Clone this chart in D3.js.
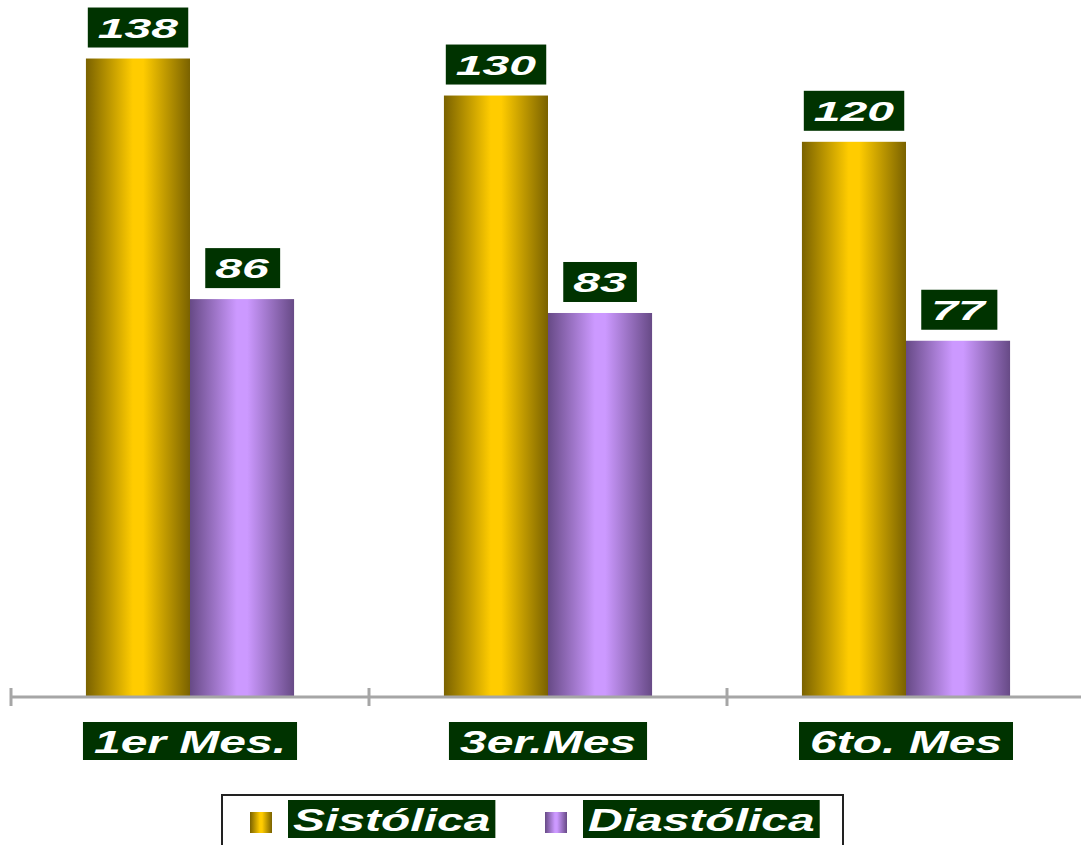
<!DOCTYPE html>
<html>
<head>
<meta charset="utf-8">
<script src="https://cdn.jsdelivr.net/npm/d3@7"></script>
<style>
  body { margin: 0; background: #fff; }
  svg { display: block; }
</style>
</head>
<body>
<svg width="1081" height="845"></svg>
<script>
var categories = ["1er Mes.", "3er.Mes", "6to. Mes"];
var seriesNames = ["Sistólica", "Diastólica"];
var sistolica = [138, 130, 120];
var diastolica = [86, 83, 77];

var svg = d3.select("svg");
var defs = svg.append("defs");

function addGradient(id, dark, light) {
    var g = defs.append("linearGradient")
        .attr("id", id)
        .attr("x1", "0%").attr("x2", "100%")
        .attr("y1", "0%").attr("y2", "0%");
    g.append("stop").attr("offset", "0%").attr("stop-color", dark);
    g.append("stop").attr("offset", "45%").attr("stop-color", light);
    g.append("stop").attr("offset", "55%").attr("stop-color", light);
    g.append("stop").attr("offset", "100%").attr("stop-color", dark);
}
addGradient("gradSis", "#7a6200", "#ffcc00");
addGradient("gradDia", "#674a86", "#cc99ff");
var fills = { "Sistólica": "url(#gradSis)", "Diastólica": "url(#gradDia)" };

var baseY = 697;
var x0 = d3.scaleBand().domain(categories).range([11, 1085]);
var x1 = d3.scaleBand().domain(seriesNames).range([0, x0.bandwidth()]).paddingOuter(0.72);
var y = d3.scaleLinear().domain([0, 150]).range([baseY, 3]);

var rows = categories.map(function (c, i) {
    return { cat: c, values: [
        { name: "Sistólica", value: sistolica[i] },
        { name: "Diastólica", value: diastolica[i] }
    ] };
});

// dark green box with stretched white italic text
function labelBox(parent, text, cx, baseline, size, sx, padX, boxH, dy) {
    var g = parent.append("g").attr("transform", "translate(" + cx + "," + baseline + ") scale(" + sx + ",1)");
    var rect = g.append("rect").attr("fill", "#003300");
    var t = g.append("text")
        .attr("text-anchor", "middle")
        .attr("font-family", "Liberation Sans, Arial, sans-serif")
        .attr("font-weight", "bold")
        .attr("font-style", "italic")
        .attr("font-size", size)
        .attr("fill", "#fff")
        .text(text);
    var bb = t.node().getBBox();
    rect.attr("x", bb.x - padX / sx)
        .attr("width", bb.width + 2 * padX / sx)
        .attr("y", -boxH + dy)
        .attr("height", boxH);
    return g;
}

// bars
var groups = svg.selectAll("g.cat")
    .data(rows)
    .enter().append("g")
    .attr("class", "cat")
    .attr("transform", d => "translate(" + x0(d.cat) + ",0)");

groups.selectAll("rect.bar")
    .data(d => d.values)
    .enter().append("rect")
    .attr("class", "bar")
    .attr("x", d => x1(d.name))
    .attr("width", x1.bandwidth())
    .attr("y", d => y(d.value))
    .attr("height", d => baseY - y(d.value))
    .attr("fill", d => fills[d.name]);

// axis
var axisG = svg.append("g");
axisG.append("line")
    .attr("x1", 11).attr("x2", 1081)
    .attr("y1", baseY).attr("y2", baseY)
    .attr("stroke", "#a6a6a6").attr("stroke-width", 3);
var tickXs = categories.map(c => x0(c)).concat([x0.range()[1]]);
axisG.selectAll("line.tick")
    .data(tickXs)
    .enter().append("line")
    .attr("class", "tick")
    .attr("x1", d => d).attr("x2", d => d)
    .attr("y1", baseY - 9).attr("y2", baseY + 9)
    .attr("stroke", "#a6a6a6").attr("stroke-width", 3);

// value labels
rows.forEach(function (r) {
    r.values.forEach(function (v) {
        var cx = x0(r.cat) + x1(v.name) + x1.bandwidth() / 2;
        labelBox(svg, String(v.value), cx, y(v.value) - 21, 28, 1.72, 10, 40, 10);
    });
});

// category labels
categories.forEach(function (c) {
    labelBox(svg, c, x0(c) + x0.bandwidth() / 2, 753, 32, 1.5, 11, 38, 7);
});

// legend
svg.append("rect")
    .attr("x", 222).attr("y", 795)
    .attr("width", 621).attr("height", 70)
    .attr("fill", "#fff")
    .attr("stroke", "#222").attr("stroke-width", 2);

var legendX = [250, 545];
seriesNames.forEach(function (s, i) {
    svg.append("rect")
        .attr("x", legendX[i]).attr("y", 812)
        .attr("width", 22).attr("height", 21)
        .attr("fill", fills[s]);
    var g = labelBox(svg, s, 0, 831, 32, 1.5, 5, 38, 7);
    var bb = g.select("rect").node().getBBox();
    var left = legendX[i] + 38;
    g.attr("transform", "translate(" + (left - bb.x * 1.5) + ",831) scale(1.5,1)");
});
</script>
</body>
</html>
